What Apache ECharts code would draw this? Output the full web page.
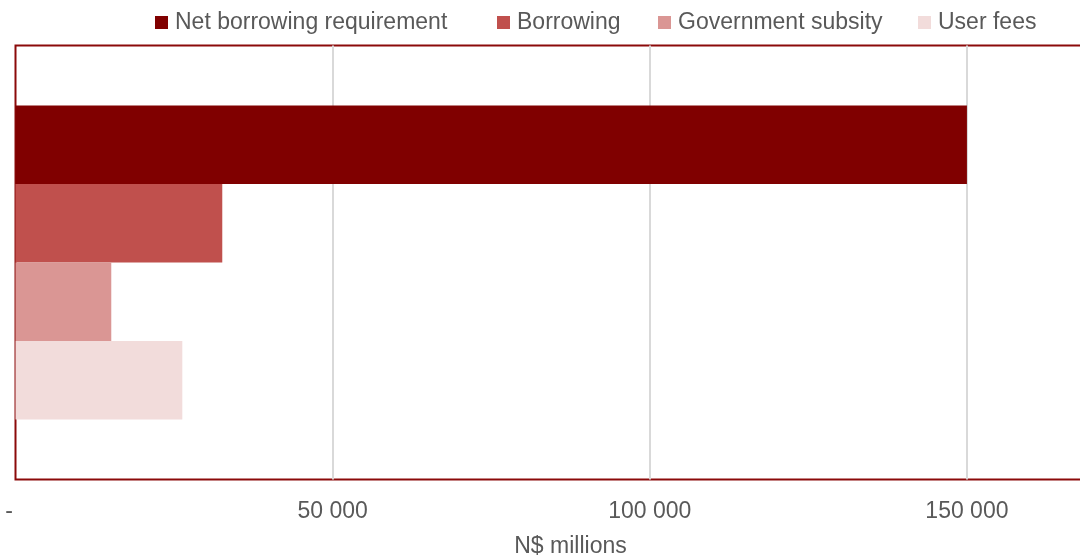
<!DOCTYPE html>
<html><head><meta charset="utf-8">
<script src="https://cdn.jsdelivr.net/npm/echarts@6/dist/echarts.min.js"></script>
<style>html,body{margin:0;padding:0;background:#fff}#c{width:1080px;height:555px}</style>
</head><body><div id="c"></div>
<script>
const categories = ['Funding'];
const seriesNames = ['Net borrowing requirement', 'Borrowing', 'Government subsity', 'User fees'];
const netBorrowing = [150000];
const borrowing = [32600];
const govSubsidy = [15100];
const userFees = [26300];
const seriesColors = ['#800000', '#C0504D', '#DA9694', '#F2DCDB'];
const axisName = 'N$ millions';

const values = [netBorrowing, borrowing, govSubsidy, userFees];
const legendLefts = [150, 492, 653, 913];
const FONT = "'Liberation Sans', Arial, sans-serif";
const chart = echarts.init(document.getElementById('c'), null, {renderer: 'canvas'});
const fmt = v => {
  if (v === 0) return '-  ';
  if (v % 50000 !== 0) return '';
  return String(v).replace(/\B(?=(\d{3})+(?!\d))/g, ' ');
};
chart.setOption({
  animation: false,
  textStyle: {fontFamily: FONT},
  legend: seriesNames.map((n, i) => ({
    top: 6, left: legendLefts[i], itemWidth: 13, itemHeight: 13,
    icon: 'rect', selectedMode: false,
    textStyle: {fontSize: 23, color: '#595959', fontFamily: FONT, padding: [0, 0, 0, 2]},
    data: [n]
  })),
  grid: {
    left: 15.5, top: 45.5, width: 1110, height: 434,
    outerBoundsMode: 'none', containLabel: false,
    show: true, borderColor: '#8B0A0A', borderWidth: 2, backgroundColor: 'transparent'
  },
  xAxis: {
    type: 'value', min: 0, max: 175000, interval: 50000,
    axisLine: {show: false}, axisTick: {show: false},
    splitLine: {show: true, showMinLine: false, lineStyle: {color: '#D9D9D9', width: 2}},
    axisLabel: {formatter: fmt, fontSize: 23, color: '#595959', margin: 21, showMaxLabel: false, fontFamily: FONT},
    name: axisName, nameLocation: 'middle', nameGap: 56,
    nameTextStyle: {fontSize: 23, color: '#595959', fontFamily: FONT}
  },
  yAxis: {
    type: 'category', data: categories, inverse: true,
    axisLine: {show: false}, axisTick: {show: false}, axisLabel: {show: false},
    splitLine: {show: false}
  },
  series: seriesNames.map((n, i) => ({
    name: n, type: 'bar', data: values[i], barWidth: 78.5, barGap: '0%',
    itemStyle: {color: seriesColors[i]}
  }))
});
</script></body></html>
